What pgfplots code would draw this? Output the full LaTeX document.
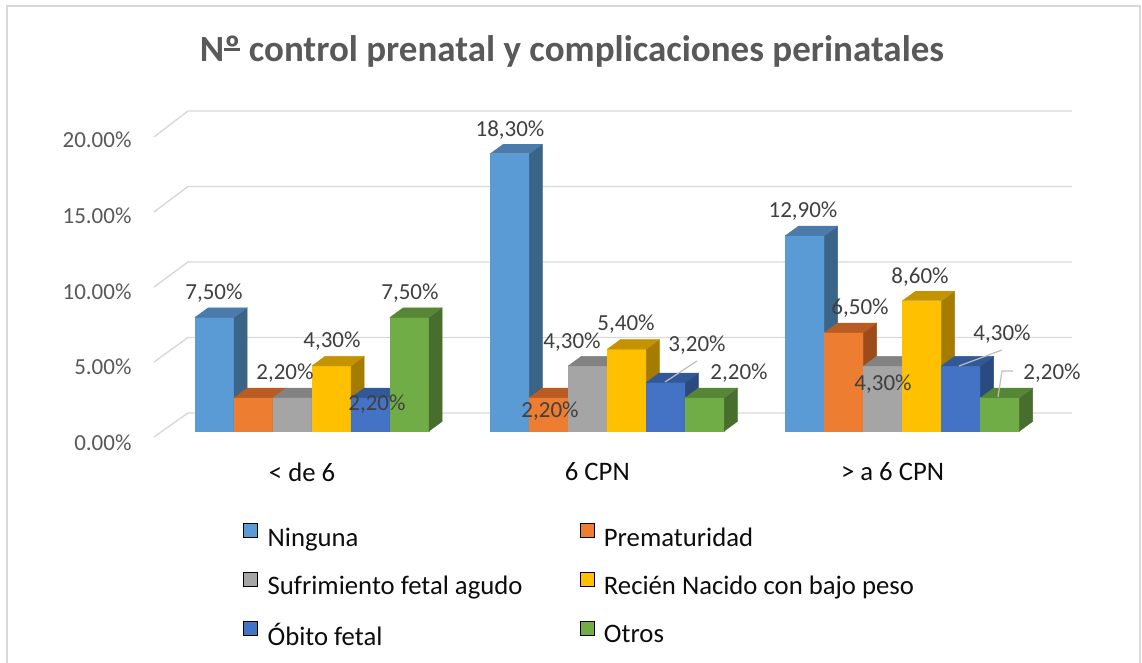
\documentclass[border=0pt]{standalone}
\usepackage{fontspec}
\setmainfont{Carlito}
\usepackage{pgfplots}
\usepackage{pgfplotstable}
\pgfplotsset{compat=1.18}
\definecolor{cgrid}{HTML}{D9D9D9}
\definecolor{ctitle}{HTML}{595959}
\definecolor{ctick}{HTML}{595959}
\definecolor{clab}{HTML}{404040}
\definecolor{ctext}{HTML}{0D0D0D}
\definecolor{cA}{HTML}{5B9BD5}\definecolor{cAt}{HTML}{4A7BAA}\definecolor{cAs}{HTML}{3B6489}
\definecolor{cB}{HTML}{ED7D31}\definecolor{cBt}{HTML}{B85C24}\definecolor{cBs}{HTML}{9E4B1C}
\definecolor{cC}{HTML}{A5A5A5}\definecolor{cCt}{HTML}{828282}\definecolor{cCs}{HTML}{6E6E6E}
\definecolor{cD}{HTML}{FFC000}\definecolor{cDt}{HTML}{C49300}\definecolor{cDs}{HTML}{A67C00}
\definecolor{cE}{HTML}{4472C4}\definecolor{cEt}{HTML}{325898}\definecolor{cEs}{HTML}{2A4A80}
\definecolor{cF}{HTML}{70AD47}\definecolor{cFt}{HTML}{578637}\definecolor{cFs}{HTML}{476E2D}

\pgfplotstableread{
x a b c d e f
0 7.5 2.2 2.2 4.3 2.2 7.5
1 18.3 2.2 4.3 5.4 3.2 2.2
2 12.9 6.5 4.3 8.6 4.3 2.2
}\data

\newcommand\ord{\setbox0\hbox{º}\rlap{\rule[0.3em]{\wd0}{0.07em}}\box0}

% one series of 3D-looking bars: #1 column, #2 shift (bp), #3 front, #4 side, #5 top
\newcommand\drawseries[5]{%
\addplot[forget plot, only marks, scatter, mark=text, text mark={},
  visualization depends on={rawy \as \ry},
  scatter/@pre marker code/.code={%
    \pgfmathsetmacro\hh{\ry*15.15}%
    \fill[#3] ({#2bp-19.5bp},-\hh bp) rectangle ({#2bp+19.5bp},0bp);
    \fill[#4] ({#2bp+19.5bp},-\hh bp) -- ++(13bp,9.5bp) -- ++(0bp,\hh bp) -- ({#2bp+19.5bp},0bp) -- cycle;
    \fill[#5] ({#2bp-19.5bp},0bp) -- ++(13bp,9.5bp) -- ++(39bp,0bp) -- ({#2bp+19.5bp},0bp) -- cycle;
  },
  scatter/@post marker code/.code={}]
  table[x=x,y=#1]{\data};
}

\begin{document}
\begin{tikzpicture}[x=1bp,y=1bp]
\useasboundingbox (0,0) rectangle (1142,663);
\fill[white] (0,0) rectangle (1142,663);
\draw[cgrid, line width=1.4bp] (7,-3) -- (7,657) -- (1140,657) -- (1140,-3);
% back wall grid
\foreach \g in {0,5,10,15,20}{
  \draw[cgrid, line width=1.4bp] (154,{226+15*\g}) -- (188,{250+15.1*\g}) -- (1072,{250+15.1*\g});
}
\node[font=\fontsize{37bp}{40bp}\selectfont\bfseries, text=ctitle, anchor=base] at (572,601.3) {N\ord{} control prenatal y complicaciones perinatales};

\begin{axis}[at={(155bp,232bp)}, anchor=south west, scale only axis,
  width=920bp, height=303bp,
  xmin=-0.532, xmax=2.584, ymin=0, ymax=20, clip=false,
  axis line style={draw=none}, tick style={draw=none},
  ytick={0,5,10,15,20},
  yticklabels={0.00\%,5.00\%,10.00\%,15.00\%,20.00\%},
  yticklabel style={font=\fontsize{23bp}{28bp}\selectfont, text=ctick, xshift=-20bp, yshift=-12bp},
  xtick={0,1,2},
  xticklabels={< de 6,6 CPN,> a 6 CPN},
  xticklabel style={font=\fontsize{26.7bp}{30bp}\selectfont, text=ctext, xshift=-10bp, yshift=-28bp},
  legend columns=2,
  legend image code/.code={\fill[#1] (0bp,0bp) rectangle (14bp,14bp);},
  legend style={at={(0.0957,-0.3046)}, anchor=north west, draw=none, fill=none,
    inner sep=0pt, font=\fontsize{26.7bp}{30bp}\selectfont, text=ctext,
    nodes={inner sep=3bp}, row sep=21bp,
    /tikz/every odd column/.append style={column sep=7bp},
    /tikz/every even column/.append style={column sep=54bp}},
  legend cell align=left,
]
\drawseries{a}{-97.5}{cA}{cAs}{cAt}
\drawseries{b}{-58.5}{cB}{cBs}{cBt}
\drawseries{c}{-19.5}{cC}{cCs}{cCt}
\drawseries{d}{19.5}{cD}{cDs}{cDt}
\drawseries{e}{58.5}{cE}{cEs}{cEt}
\drawseries{f}{97.5}{cF}{cFs}{cFt}
\addlegendimage{fill=cA}\addlegendentry{Ninguna}
\addlegendimage{fill=cB}\addlegendentry{Prematuridad}
\addlegendimage{fill=cC}\addlegendentry{Sufrimiento fetal agudo}
\addlegendimage{fill=cD}\addlegendentry{Recién Nacido con bajo peso}
\addlegendimage{fill=cE}\addlegendentry{Óbito fetal}
\addlegendimage{fill=cF}\addlegendentry{Otros}
\end{axis}

% leader lines
\draw[cgrid!70!gray, line width=1.2bp] (665,281) -- (697,302);
\draw[cgrid!70!gray, line width=1.2bp] (959,297) -- (1002,313);
\draw[cgrid!70!gray, line width=1.2bp] (998,266) -- (1002,292) -- (1013,292);
% data labels
\begin{scope}[every node/.style={font=\fontsize{23bp}{28bp}\selectfont, text=clab, inner sep=0pt}]
\node at (214,370) {7,50\%};
\node at (285,290) {2,20\%};
\node at (332,322) {4,30\%};
\node at (377,259) {2,20\%};
\node at (410,370) {7,50\%};
\node at (510,533) {18,30\%};
\node at (572,321) {4,30\%};
\node at (626,339) {5,40\%};
\node at (697,318) {3,20\%};
\node at (739,290) {2,20\%};
\node at (550,252) {2,20\%};
\node at (803,452) {12,90\%};
\node at (860,355) {6,50\%};
\node at (920,386) {8,60\%};
\node at (883,279) {4,30\%};
\node at (1002,329) {4,30\%};
\node at (1052,290) {2,20\%};
\end{scope}
\end{tikzpicture}
\end{document}
